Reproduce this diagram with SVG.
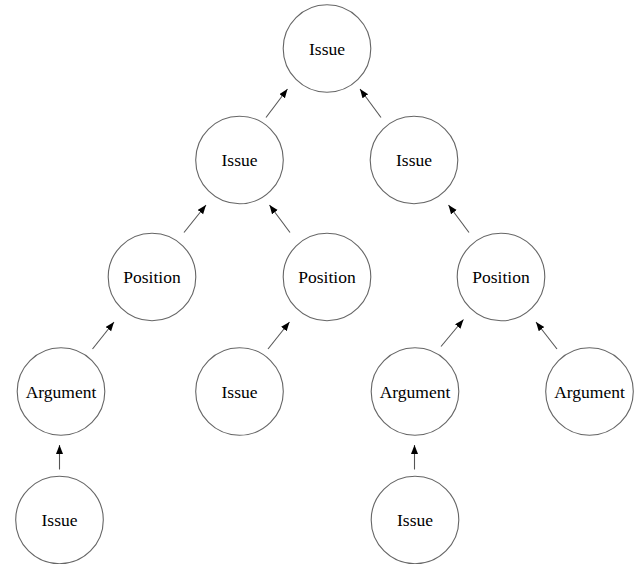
<svg xmlns="http://www.w3.org/2000/svg" width="641" height="564" viewBox="0 0 641 564">
<defs>
<style>
.n circle{fill:#fff;stroke:#666;stroke-width:1.1}
.n text{font-family:'Liberation Serif','Times New Roman',Times,serif;font-size:17.5px;fill:#000;text-anchor:middle}
.c line{stroke:#555;stroke-width:1.1;marker-end:url(#ah)}
</style>
<marker id="ah" markerUnits="userSpaceOnUse" markerWidth="10" markerHeight="8" refX="9" refY="3.5" orient="auto">
<path d="M0,0 L9,3.5 L0,7 z" fill="#000"/>
</marker>
</defs>
<rect width="641" height="564" fill="#fff"/>
<g id="n1" class="n"><circle cx="327" cy="48.5" r="43.8"/><text x="327" y="54.5" font-family="Liberation Serif, serif">Issue</text></g>
<g id="n2" class="n"><circle cx="239.5" cy="160" r="43.8"/><text x="239.5" y="166" font-family="Liberation Serif, serif">Issue</text></g>
<g id="n3" class="n"><circle cx="414" cy="160" r="43.8"/><text x="414" y="166" font-family="Liberation Serif, serif">Issue</text></g>
<g id="n4" class="n"><circle cx="152" cy="277" r="43.8"/><text x="152" y="283" font-family="Liberation Serif, serif">Position</text></g>
<g id="n5" class="n"><circle cx="327" cy="277" r="43.8"/><text x="327" y="283" font-family="Liberation Serif, serif">Position</text></g>
<g id="n6" class="n"><circle cx="501" cy="277" r="43.8"/><text x="501" y="283" font-family="Liberation Serif, serif">Position</text></g>
<g id="n7" class="n"><circle cx="61" cy="391.5" r="43.8"/><text x="61" y="397.5" font-family="Liberation Serif, serif">Argument</text></g>
<g id="n8" class="n"><circle cx="239.5" cy="391.5" r="43.8"/><text x="239.5" y="397.5" font-family="Liberation Serif, serif">Issue</text></g>
<g id="n9" class="n"><circle cx="415" cy="391.5" r="43.8"/><text x="415" y="397.5" font-family="Liberation Serif, serif">Argument</text></g>
<g id="n10" class="n"><circle cx="589.5" cy="391.5" r="43.8"/><text x="589.5" y="397.5" font-family="Liberation Serif, serif">Argument</text></g>
<g id="n11" class="n"><circle cx="59.5" cy="520" r="43.8"/><text x="59.5" y="526" font-family="Liberation Serif, serif">Issue</text></g>
<g id="n12" class="n"><circle cx="415" cy="520" r="43.8"/><text x="415" y="526" font-family="Liberation Serif, serif">Issue</text></g>
<g id="connectors" class="c">
<line x1="266" y1="117.5" x2="287.5" y2="89"/>
<line x1="381" y1="117.5" x2="360" y2="89"/>
<line x1="184" y1="232.5" x2="206" y2="205"/>
<line x1="290" y1="232.5" x2="269.5" y2="205"/>
<line x1="469" y1="232.5" x2="448.5" y2="205"/>
<line x1="92.5" y1="349" x2="114" y2="322"/>
<line x1="268" y1="349" x2="289.5" y2="322"/>
<line x1="441" y1="346.5" x2="463.5" y2="319.5"/>
<line x1="557" y1="349" x2="536" y2="322"/>
<line x1="59.5" y1="469.5" x2="59.5" y2="445"/>
<line x1="414.5" y1="469.5" x2="414.5" y2="445"/>
</g>
</svg>
